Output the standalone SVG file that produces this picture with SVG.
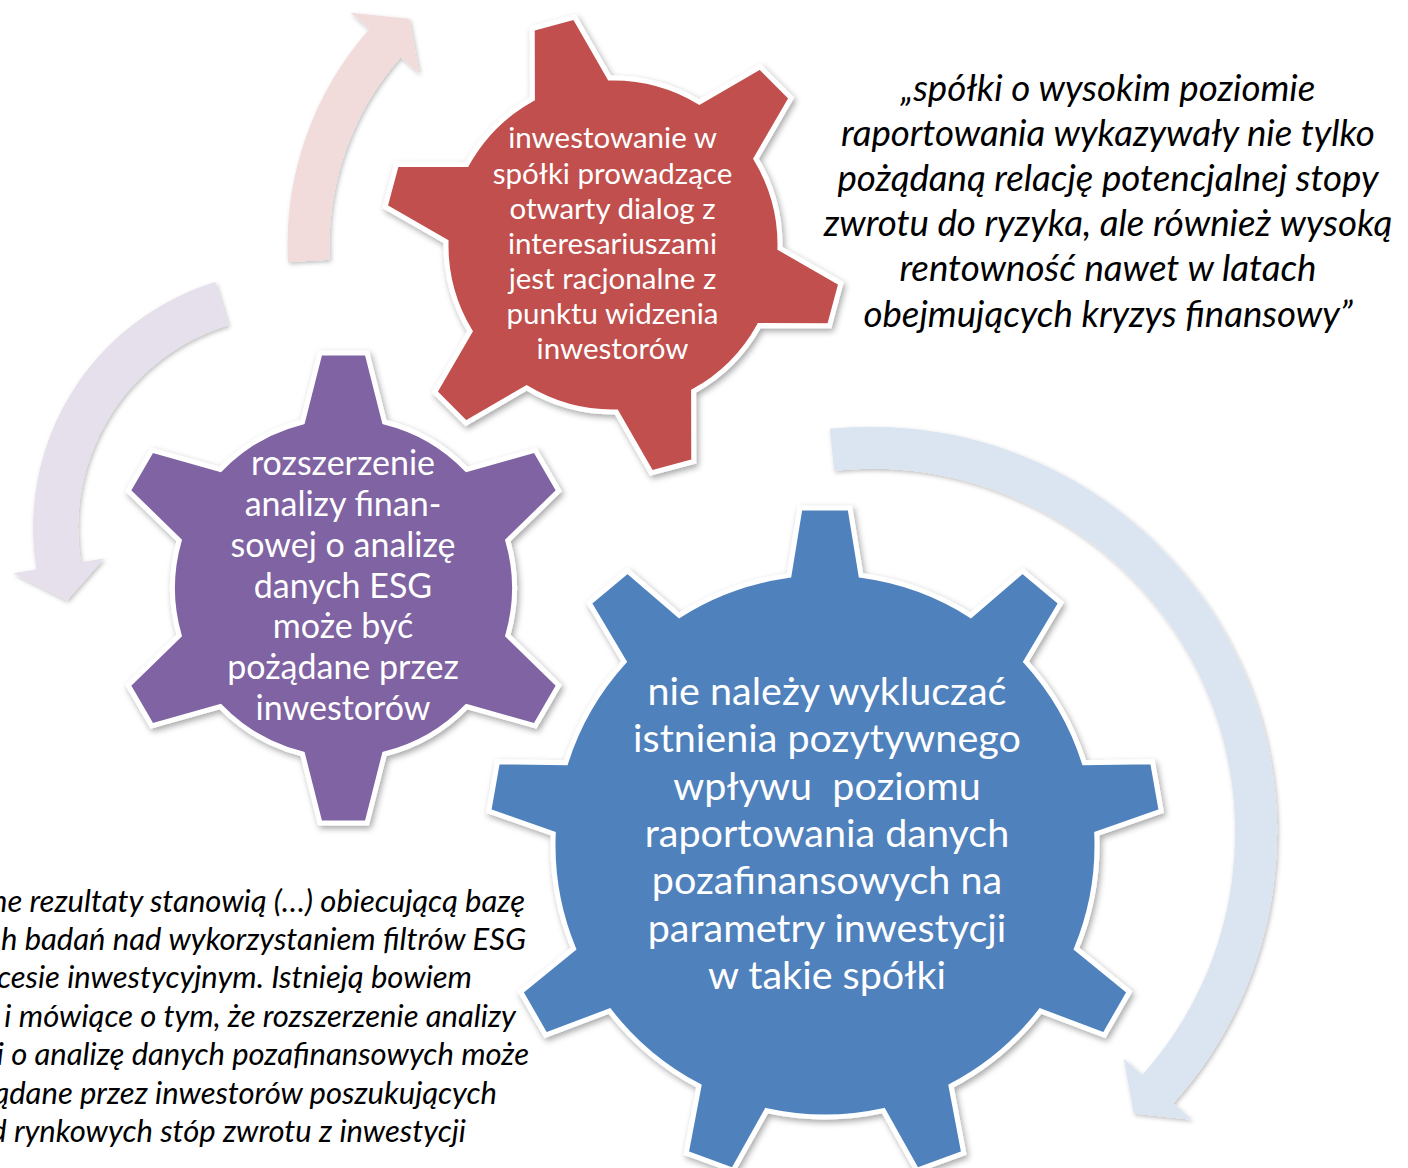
<svg xmlns="http://www.w3.org/2000/svg" width="1408" height="1168" viewBox="0 0 1408 1168">
  <defs>
    <style>
      .gear { stroke: #ffffff; stroke-width: 5; stroke-linejoin: miter; filter: url(#gearShadow); }
      .arrow { filter: url(#arrowShadow); }
      .label { font-family: Lato, "Open Sans", "Liberation Sans", sans-serif; fill: #ffffff; text-anchor: middle; }
      .red-label { font-size: 29.5px; }
      .purple-label { font-size: 34px; }
      .blue-label { font-size: 39.5px; }
      .quote { font-family: Lato, "Open Sans", "Liberation Sans", sans-serif; font-style: italic; fill: #000000; }
      .quote-top { font-size: 36.7px; text-anchor: middle; }
      .quote-bottom { font-size: 31px; text-anchor: end; }
    </style>
    <filter id="gearShadow" x="-15%" y="-15%" width="135%" height="135%">
      <feDropShadow dx="2" dy="3" stdDeviation="3" flood-color="#000000" flood-opacity="0.35"/>
    </filter>
    <filter id="arrowShadow" x="-15%" y="-15%" width="135%" height="135%">
      <feDropShadow dx="1.5" dy="2" stdDeviation="2" flood-color="#000000" flood-opacity="0.25"/>
    </filter>
  </defs>

  <rect width="1408" height="1168" fill="#ffffff"/>

  <!-- circular block arrows -->
  <g id="connectors">
    <path id="arrow-red" class="arrow" fill="#F2DCDB" d="M287.95,262.04 A325.5,325.5 0 0 1 369.21,29.32 L350.49,12.75 L409.25,18.71 L419.39,73.71 L400.67,57.15 A283.5,283.5 0 0 0 329.89,259.84 Z"/>
    <path id="arrow-purple" class="arrow" fill="#E5E0EC" d="M215.29,282.10 A257,257 0 0 0 36.38,569.53 L13.19,573.33 L66.98,600.46 L103.98,558.46 L80.79,562.26 A212,212 0 0 1 228.37,325.16 Z"/>
    <path id="arrow-blue" class="arrow" fill="#DBE5F1" d="M829.81,428.85 A405.6,405.6 0 0 1 1173.39,1103.17 L1191.78,1119.67 L1133.80,1113.58 L1123.75,1058.63 L1142.13,1075.12 A363.6,363.6 0 0 0 834.13,470.63 Z"/>
  </g>

  <!-- large gear (9 teeth) -->
  <g id="gear-blue">
    <path class="gear" fill="#4F81BD" d="M789,575.39 L800,508 L850,508 L861,575.39 A272,272 0 0 1 970.72,615.33 L1022.47,570.77 L1060.77,602.91 L1025.88,661.61 A272,272 0 0 1 1084.26,762.73 L1152.54,761.86 L1161.22,811.10 L1096.76,833.63 A272,272 0 0 1 1076.49,948.63 L1129.35,991.85 L1104.35,1035.15 L1040.49,1010.99 A272,272 0 0 1 951.04,1086.04 L963.75,1153.13 L916.77,1170.23 L883.38,1110.66 A272,272 0 0 1 766.62,1110.66 L733.23,1170.23 L686.25,1153.13 L698.96,1086.04 A272,272 0 0 1 609.51,1010.99 L545.65,1035.15 L520.65,991.85 L573.51,948.63 A272,272 0 0 1 553.24,833.63 L488.78,811.10 L497.46,761.86 L565.74,762.73 A272,272 0 0 1 624.12,661.61 L589.23,602.91 L627.53,570.77 L679.28,615.33 A272,272 0 0 1 789,575.39 Z"/>
    <g class="label blue-label">
      <text x="827" y="705">nie należy wykluczać</text>
      <text x="827" y="752">istnienia pozytywnego</text>
      <text x="827" y="800">wpływu&#160; poziomu</text>
      <text x="827" y="847">raportowania danych</text>
      <text x="827" y="894">pozafinansowych na</text>
      <text x="827" y="942">parametry inwestycji</text>
      <text x="827" y="989">w takie spółki</text>
    </g>
  </g>

  <!-- top gear (6 teeth) -->
  <g id="gear-red">
    <path class="gear" fill="#C0504D" d="M532.40,98.74 L532.22,28.53 L574.72,17.14 L609.67,78.03 A167,167 0 0 1 699.37,102.07 L760.07,66.81 L791.19,97.93 L755.93,158.63 A167,167 0 0 1 779.97,248.33 L840.86,283.28 L829.47,325.78 L759.26,325.60 A167,167 0 0 1 693.60,391.26 L693.78,461.47 L651.28,472.86 L616.33,411.97 A167,167 0 0 1 526.63,387.93 L465.93,423.19 L434.81,392.07 L470.07,331.37 A167,167 0 0 1 446.03,241.67 L385.14,206.72 L396.53,164.22 L466.74,164.40 A167,167 0 0 1 532.40,98.74 Z"/>
    <g class="label red-label">
      <text x="612.5" y="148.3">inwestowanie w</text>
      <text x="612.5" y="183.5">spółki prowadzące</text>
      <text x="612.5" y="218.6">otwarty dialog z</text>
      <text x="612.5" y="253.8">interesariuszami</text>
      <text x="612.5" y="289">jest racjonalne z</text>
      <text x="612.5" y="324.2">punktu widzenia</text>
      <text x="612.5" y="359.3">inwestorów</text>
    </g>
  </g>

  <!-- left gear (6 teeth) -->
  <g id="gear-purple">
    <path class="gear" fill="#8064A2" d="M302.5,421.99 L320,353 L367,353 L384.5,421.99 A171,171 0 0 1 466.77,469.49 L535.27,450.15 L558.77,490.85 L507.77,540.50 A171,171 0 0 1 507.77,635.50 L558.77,685.15 L535.27,725.85 L466.77,706.51 A171,171 0 0 1 384.5,754.01 L367,823 L320,823 L302.5,754.01 A171,171 0 0 1 220.23,706.51 L151.73,725.85 L128.23,685.15 L179.23,635.50 A171,171 0 0 1 179.23,540.50 L128.23,490.85 L151.73,450.15 L220.23,469.49 A171,171 0 0 1 302.5,421.99 Z"/>
    <g class="label purple-label">
      <text x="343" y="475">rozszerzenie</text>
      <text x="343" y="515.8">analizy finan-</text>
      <text x="343" y="556.7">sowej o analizę</text>
      <text x="343" y="597.5">danych ESG</text>
      <text x="343" y="638.3">może być</text>
      <text x="343" y="679.2">pożądane przez</text>
      <text x="343" y="720">inwestorów</text>
    </g>
  </g>

  <!-- quotation, upper right -->
  <g id="quote-top" class="quote quote-top">
    <text x="1108" y="101">„spółki o wysokim poziomie</text>
    <text x="1108" y="146">raportowania wykazywały nie tylko</text>
    <text x="1108" y="191">pożądaną relację potencjalnej stopy</text>
    <text x="1108" y="236">zwrotu do ryzyka, ale również wysoką</text>
    <text x="1108" y="281">rentowność nawet w latach</text>
    <text x="1108" y="327">obejmujących kryzys finansowy”</text>
  </g>

  <!-- quotation, lower left (runs off the left edge) -->
  <g id="quote-bottom" class="quote quote-bottom">
    <text x="525" y="912">ne rezultaty stanowią (…) obiecującą bazę</text>
    <text x="526" y="950">h badań nad wykorzystaniem filtrów ESG</text>
    <text x="472" y="988">cesie inwestycyjnym. Istnieją bowiem</text>
    <text x="516" y="1027">i mówiące o tym, że rozszerzenie analizy</text>
    <text x="529" y="1065">i o analizę danych pozafinansowych może</text>
    <text x="497" y="1104">ądane przez inwestorów poszukujących</text>
    <text x="466" y="1142">d rynkowych stóp zwrotu z inwestycji</text>
  </g>
</svg>
